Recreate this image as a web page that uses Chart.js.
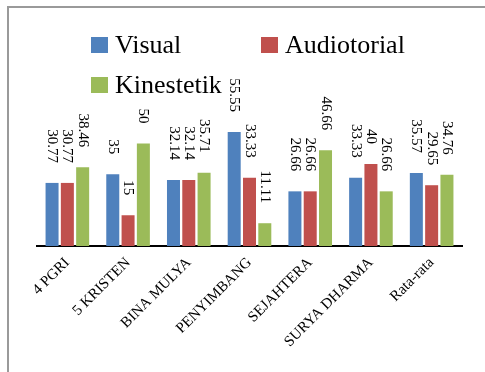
<!DOCTYPE html>
<html>
<head>
<meta charset="utf-8">
<script src="https://cdn.jsdelivr.net/npm/chart.js@4.4.1/dist/chart.umd.min.js"></script>
<style>
  html, body { margin: 0; padding: 0; background: #fff; overflow: hidden; }
  #wrap { position: relative; width: 485px; height: 372px; overflow: hidden; }
  #frame { position: absolute; left: 7px; top: 6px; width: 600px; height: 500px;
           border-left: 2px solid #9a9a9a; border-top: 2px solid #9a9a9a; }
  #chart { position: absolute; left: 0; top: 0; }
  .lg { position: absolute; display: flex; align-items: center;
        font-family: "Liberation Serif", "Times New Roman", serif; font-size: 26px;
        line-height: 26px; color: #000; white-space: nowrap; }
  .lg i { display: inline-block; width: 17px; height: 16px; margin-right: 7px; }
</style>
</head>
<body>
<div id="wrap">
  <div id="frame"></div>
  <canvas id="chart" width="485" height="372"></canvas>
  <div id="legend"></div>
</div>
<script>
// Schools and the learning-style percentages for each one
const categories = ['4 PGRI', '5 KRISTEN', 'BINA MULYA', 'PENYIMBANG', 'SEJAHTERA', 'SURYA DHARMA', 'Rata-rata'];
const seriesNames = ['Visual', 'Audiotorial', 'Kinestetik'];
const visual      = [30.77, 35, 32.14, 55.55, 26.66, 33.33, 35.57];
const audiotorial = [30.77, 15, 32.14, 33.33, 26.66, 40, 29.65];
const kinestetik  = [38.46, 50, 35.71, 11.11, 46.66, 26.66, 34.76];
const colors = ['#4F81BD', '#C0504D', '#9BBB59'];

const seriesValues = [visual, audiotorial, kinestetik];

// Legend laid out in two rows
const legendSpots = [[91, 32], [261, 32], [91, 72]];
const legendEl = document.getElementById('legend');
seriesNames.forEach((name, i) => {
  const d = document.createElement('div');
  d.className = 'lg';
  d.style.left = legendSpots[i][0] + 'px';
  d.style.top = legendSpots[i][1] + 'px';
  d.innerHTML = '<i style="background:' + colors[i] + '"></i><span>' + name + '</span>';
  legendEl.appendChild(d);
});

// Vertical value labels above every bar
const valueLabels = {
  id: 'valueLabels',
  afterDatasetsDraw(chart) {
    const ctx = chart.ctx;
    ctx.save();
    ctx.font = '15px "Liberation Serif", "Times New Roman", serif';
    ctx.fillStyle = '#000';
    ctx.textAlign = 'right';
    ctx.textBaseline = 'middle';
    chart.data.datasets.forEach((ds, di) => {
      const meta = chart.getDatasetMeta(di);
      meta.data.forEach((bar, i) => {
        ctx.save();
        ctx.translate(bar.x, bar.y - 20);
        ctx.rotate(Math.PI / 2);
        ctx.fillText(String(ds.data[i]), 0, 0);
        ctx.restore();
      });
    });
    ctx.restore();
  }
};

new Chart(document.getElementById('chart'), {
  type: 'bar',
  data: {
    labels: categories,
    datasets: seriesNames.map((name, i) => ({
      label: name,
      data: seriesValues[i],
      backgroundColor: colors[i],
      categoryPercentage: 0.756,
      barPercentage: 0.85
    }))
  },
  options: {
    responsive: false,
    animation: false,
    devicePixelRatio: 1,
    layout: { padding: { top: 123, left: 37, right: 23, bottom: 0 } },
    plugins: { legend: { display: false }, tooltip: { enabled: false } },
    scales: {
      y: { display: false, min: 0, max: 60 },
      x: {
        grid: { display: false, drawTicks: false },
        border: { display: true, color: '#000', width: 2 },
        ticks: {
          autoSkip: false, minRotation: 45, maxRotation: 45, padding: 8,
          color: '#000',
          font: { family: '"Liberation Serif", "Times New Roman", serif', size: 15 }
        },
        afterFit(scale) { scale.height = 126; }
      }
    }
  },
  plugins: [valueLabels]
});
</script>
</body>
</html>
